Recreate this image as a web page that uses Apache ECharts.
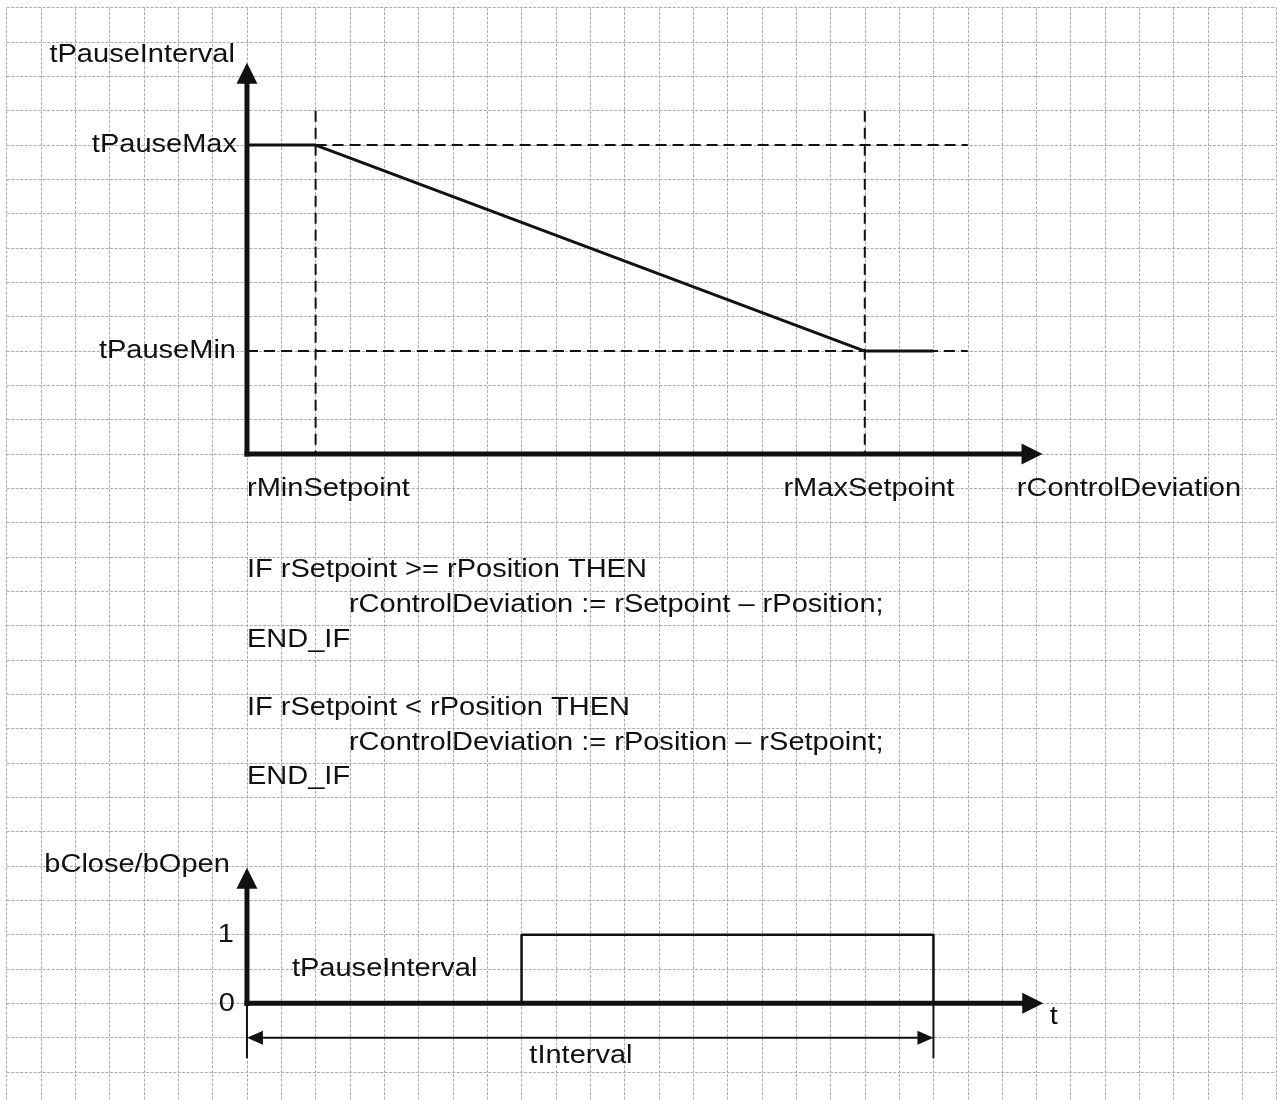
<!DOCTYPE html>
<html>
<head>
<meta charset="utf-8">
<script src="https://cdn.jsdelivr.net/npm/echarts@6/dist/echarts.min.js"></script>
<style>
html,body{margin:0;padding:0;background:#fff;}
#chart{width:1277px;height:1101px;}
</style>
</head>
<body>
<div id="chart"></div>
<script>
// ---- data (grid units: x = column, y = row from top) ----
const gridCols = 37;
const gridRows = 31.8;

// upper diagram: tPauseInterval as a function of rControlDeviation
const curveX = [7, 9, 25, 27];
const curveY = [4, 4, 10, 10];

// dashed guide lines [x1, y1, x2, y2]
const guideSegments = [
  [9, 4, 28, 4],
  [7, 10, 28, 10],
  [9, 3, 9, 13],
  [25, 3, 25, 13]
];

// lower diagram: bClose/bOpen pulse
const pulseX = [7, 15, 15, 27, 27];
const pulseY = [29, 29, 27, 27, 29];

// thin marker lines for tInterval [x1, y1, x2, y2]
const markerSegments = [
  [7, 29, 7, 30.6],
  [27, 29, 27, 30.6]
];

// axis arrows [x1, y1, x2(tip), y2(tip)]
const axisArrows = [
  [7, 13, 7, 1.6],
  [7, 13, 30.18, 13],
  [7, 29, 7, 25.05],
  [7, 29, 30.2, 29]
];
// double-headed tInterval arrow
const intervalArrows = [[7, 30, 27, 30]];

// text labels and their anchor points
const rightLabels = ['tPauseInterval', 'tPauseMax', 'tPauseMin', 'bClose/bOpen', '1', '0'];
const rightAnchors = [[6.65, 1.38], [6.71, 4], [6.68, 10], [6.5, 24.97], [6.62, 27], [6.65, 29]];

const leftLabels = [
  'rMinSetpoint',
  'rControlDeviation',
  'IF rSetpoint >= rPosition THEN',
  'rControlDeviation := rSetpoint \u2013 rPosition;',
  'END_IF',
  'IF rSetpoint < rPosition THEN',
  'rControlDeviation := rPosition \u2013 rSetpoint;',
  'END_IF',
  'tPauseInterval',
  't'
];
const leftAnchors = [[7, 14], [29.43, 14], [7, 16.38], [9.97, 17.4], [7, 18.4],
  [7, 20.38], [9.97, 21.4], [7, 22.4], [8.31, 28], [30.39, 29.39]];

const centerLabels = ['rMaxSetpoint', 'tInterval'];
const centerAnchors = [[25.12, 14], [16.73, 30.52]];

// ---- chart ----
const chart = echarts.init(document.getElementById('chart'));
const CELL = 34.333;
const INK = '#111111';
const FONT = 'Liberation Sans, Arial, Helvetica, sans-serif';
const FONT_SIZE = 26.5;
const STRETCH = 1.095;

function zip(xs, ys) { return xs.map((x, i) => [x, ys[i]]); }

function lineSeries(points, width, type, z) {
  return {
    type: 'line', data: points, symbol: 'none', showSymbol: false,
    lineStyle: { color: INK, width: width, type: type },
    z: z, silent: true, animation: false, clip: false
  };
}

function arrowSeries(data, lineW, headL, headW, both) {
  return {
    type: 'custom', coordinateSystem: 'cartesian2d', data: data, silent: true,
    animation: false, z: 5,
    encode: { x: [0, 2], y: [1, 3] },
    renderItem: function (params, api) {
      const a = api.coord([api.value(0), api.value(1)]);
      const b = api.coord([api.value(2), api.value(3)]);
      const dx = b[0] - a[0], dy = b[1] - a[1];
      const len = Math.hypot(dx, dy);
      const ux = dx / len, uy = dy / len, nx = -uy, ny = ux;
      const head = function (tip, sx, sy) {
        return [
          [tip[0], tip[1]],
          [tip[0] - sx * headL + nx * headW / 2, tip[1] - sy * headL + ny * headW / 2],
          [tip[0] - sx * headL - nx * headW / 2, tip[1] - sy * headL - ny * headW / 2]
        ];
      };
      const start = both ? [a[0] + ux * headL * 0.8, a[1] + uy * headL * 0.8] : a;
      const end = [b[0] - ux * headL * 0.8, b[1] - uy * headL * 0.8];
      const children = [{
        type: 'line',
        shape: { x1: start[0], y1: start[1], x2: end[0], y2: end[1] },
        style: { stroke: INK, lineWidth: lineW, lineCap: both ? 'butt' : 'square' }
      }, {
        type: 'polygon', shape: { points: head(b, ux, uy) }, style: { fill: INK }
      }];
      if (both) {
        children.push({ type: 'polygon', shape: { points: head(a, -ux, -uy) }, style: { fill: INK } });
      }
      return { type: 'group', children: children };
    }
  };
}

function textSeries(anchors, labels, align) {
  return {
    type: 'custom', coordinateSystem: 'cartesian2d', data: anchors, silent: true,
    animation: false, z: 6,
    renderItem: function (params, api) {
      const p = api.coord([api.value(0), api.value(1)]);
      return {
        type: 'text', x: p[0], y: p[1], scaleX: STRETCH, scaleY: 1,
        style: {
          text: labels[params.dataIndex], fill: INK,
          fontSize: FONT_SIZE, fontFamily: FONT,
          align: align, verticalAlign: 'middle'
        }
      };
    }
  };
}

const series = [];
guideSegments.forEach(s => series.push(lineSeries([[s[0], s[1]], [s[2], s[3]]], 2, [11, 6], 2)));
markerSegments.forEach(s => series.push(lineSeries([[s[0], s[1]], [s[2], s[3]]], 2, 'solid', 3)));
series.push(lineSeries(zip(curveX, curveY), 3, 'solid', 4));
series.push(lineSeries(zip(pulseX, pulseY), 2.5, 'solid', 4));
series.push(arrowSeries(axisArrows, 5, 21, 21, false));
series.push(arrowSeries(intervalArrows, 2, 16, 14, true));
series.push(textSeries(rightAnchors, rightLabels, 'right'));
series.push(textSeries(leftAnchors, leftLabels, 'left'));
series.push(textSeries(centerAnchors, centerLabels, 'center'));

const gridStyle = { show: true, showMinLine: true, showMaxLine: false,
  lineStyle: { color: '#ababab', width: 1, type: [3, 1.5] } };

chart.setOption({
  backgroundColor: '#ffffff',
  animation: false,
  grid: { left: 6.7, top: 7.7, width: 36.99 * CELL, height: gridRows * CELL, containLabel: false },
  xAxis: {
    type: 'value', min: 0, max: gridCols, interval: 1,
    axisLine: { show: false }, axisTick: { show: false }, axisLabel: { show: false },
    splitLine: Object.assign({}, gridStyle, { showMaxLine: true })
  },
  yAxis: {
    type: 'value', min: 0, max: gridRows, interval: 1, inverse: true,
    axisLine: { show: false }, axisTick: { show: false }, axisLabel: { show: false },
    splitLine: gridStyle
  },
  series: series
});
</script>
</body>
</html>
